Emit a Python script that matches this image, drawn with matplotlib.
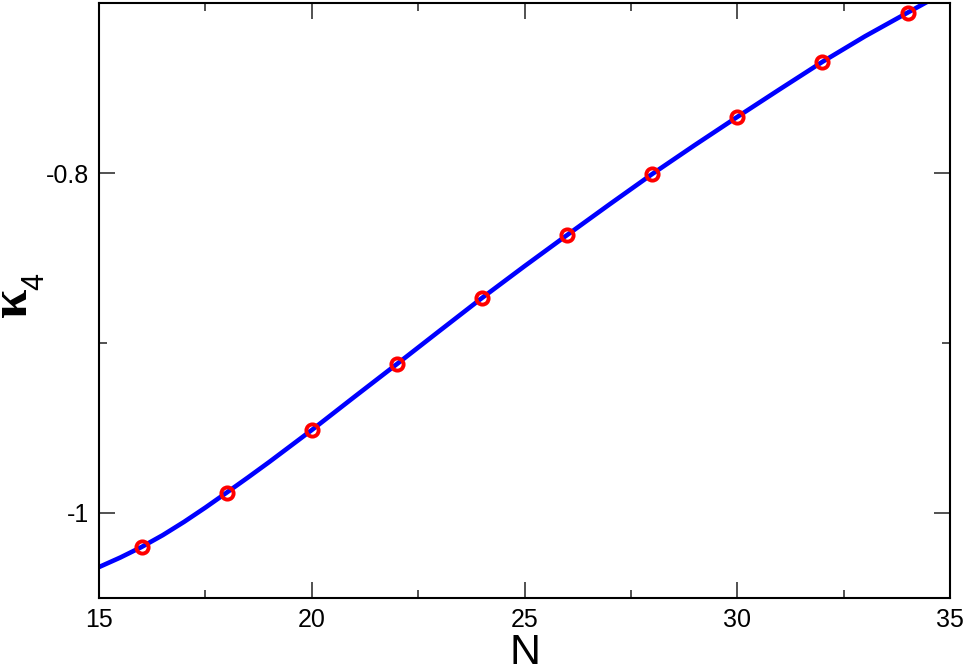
import numpy as np
import matplotlib.pyplot as plt
from matplotlib.ticker import MultipleLocator

plt.rcParams['font.family'] = ['Liberation Sans', 'DejaVu Sans']

# data points
n_pts = [16, 18, 20, 22, 24, 26, 28, 30, 32, 34]
k4_pts = [-1.0200, -0.9880, -0.9512, -0.9124, -0.8735,
          -0.8365, -0.8006, -0.7670, -0.7346, -0.7057]

# fitted curve
n_fit = [15, 15.5, 16, 16.5, 17, 17.5, 18, 18.5, 19, 20, 21, 22, 23, 24,
         25, 26, 27, 28, 29, 30, 31, 32, 33, 34, 34.5]
k4_fit = [-1.0318, -1.0262, -1.0200, -1.0130, -1.0052, -0.9968, -0.9880,
          -0.9791, -0.9700, -0.9512, -0.9317, -0.9124, -0.8929, -0.8735,
          -0.8548, -0.8365, -0.8184, -0.8006, -0.7836, -0.7670, -0.7507,
          -0.7346, -0.7196, -0.7057, -0.6988]

fig = plt.figure(figsize=(9.66, 6.68), dpi=100)
ax = fig.add_axes([0.1025, 0.1048, 0.881, 0.8907])

ax.plot(n_fit, k4_fit, color='#0000ff', lw=3.3, zorder=2,
        solid_joinstyle='round')
ax.plot(n_pts, k4_pts, 'o', mfc='none', mec='#ff0000', ms=8.8, mew=2.8,
        zorder=3)

ax.set_xlim(15, 35)
ax.set_ylim(-1.05, -0.7)
ax.xaxis.set_major_locator(MultipleLocator(5))
ax.xaxis.set_minor_locator(MultipleLocator(2.5))
ax.yaxis.set_minor_locator(MultipleLocator(0.1))
ax.set_yticks([-1.0, -0.8])
ax.set_yticklabels(['-1', '-0.8'])

ax.tick_params(which='both', direction='in', top=True, right=True,
               labelsize=18, width=1.1, color='#222222')
ax.tick_params(which='major', length=11.5, pad=7)
ax.tick_params(which='minor', length=5.8)
for s in ax.spines.values():
    s.set_linewidth(1.5)

ax.set_xlabel('N', fontsize=31, va='baseline')
ax.xaxis.set_label_coords(0.5, -66 / 595)

# kappa_4 label, drawn as two texts
fig.text(26 / 966, 1 - 302 / 668, 'κ', family='Liberation Serif',
         weight='bold', fontsize=38, rotation=90, rotation_mode='anchor',
         ha='center', va='baseline')
fig.text(43 / 966, 1 - 282 / 668, '4', family='Liberation Sans',
         fontsize=22, rotation=90, rotation_mode='anchor',
         ha='center', va='baseline')

plt.savefig('out.png', dpi=100)
